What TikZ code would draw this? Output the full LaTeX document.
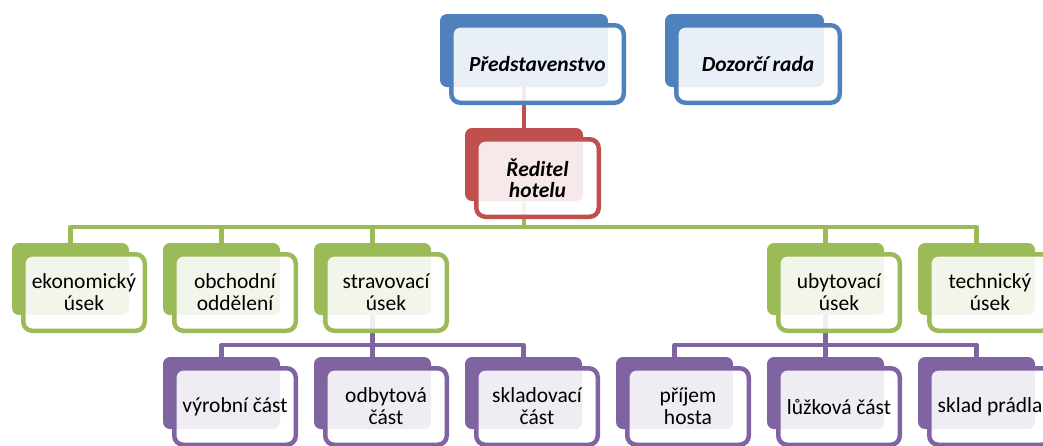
\documentclass[tikz,border=0pt]{standalone}
\usepackage{fontspec}
\setmainfont{Carlito}
\definecolor{cblue}{HTML}{4F81BD}
\definecolor{cred}{HTML}{C0504D}
\definecolor{cgreen}{HTML}{9BBB59}
\definecolor{cpurple}{HTML}{8064A2}
\pgfdeclarelayer{bg}
\pgfsetlayers{bg,main}
\tikzset{
  back/.style={rectangle, rounded corners=7pt, fill=#1, draw=none, minimum width=117pt, minimum height=72pt, inner sep=0pt, outer sep=0pt},
  front/.style={rectangle, rounded corners=9pt, draw=#1, line width=4.5pt, fill=white, fill opacity=0.88, text opacity=1, minimum width=121.5pt, minimum height=76.5pt, align=center, font=\fontsize{21.5}{22}\selectfont, inner sep=0pt},
  topfont/.style={font=\fontsize{21.5}{21}\selectfont\bfseries\itshape},
  conn/.style={line width=4.5pt, draw=#1, line join=round},
}
\begin{document}
\begin{tikzpicture}[x=1pt,y=-1pt]
\useasboundingbox (0,0) rectangle (1043,445);
\clip (0,0) rectangle (1043,445);
% top
\node[back=cblue, minimum width=168pt, minimum height=73pt] (presB) at (524,50.5) {};
\node[front=cblue, topfont, minimum width=172.5pt, minimum height=77.5pt] (pres) at (537.5,64) {Představenstvo};
\node[back=cblue, minimum width=159pt, minimum height=73pt] (dozB) at (744.5,50.5) {};
\node[front=cblue, topfont, minimum width=163.5pt, minimum height=77.5pt] (doz) at (758,64) {Dozorčí rada};
\node[back=cred, minimum width=118pt, minimum height=73pt] (dirB) at (524,164.5) {};
\node[front=cred, topfont, minimum width=122.5pt, minimum height=77.5pt] (dir) at (537.5,178) {Ředitel\\hotelu};
% green row
\node[back=cgreen] (ekB) at (70.5,279) {};
\node[front=cgreen] (ek) at (84,292.5) {ekonomický\\úsek};
\node[back=cgreen] (obB) at (221.5,279) {};
\node[front=cgreen] (ob) at (235,292.5) {obchodní\\oddělení};
\node[back=cgreen] (stB) at (372.5,279) {};
\node[front=cgreen] (st) at (386,292.5) {stravovací\\úsek};
\node[back=cgreen] (ubB) at (825.5,279) {};
\node[front=cgreen] (ub) at (839,292.5) {ubytovací\\úsek};
\node[back=cgreen] (teB) at (976.5,279) {};
\node[front=cgreen] (te) at (990,292.5) {technický\\úsek};
% purple row
\node[back=cpurple] (vyB) at (221.5,393) {};
\node[front=cpurple] (vy) at (235,406.5) {výrobní část};
\node[back=cpurple] (odB) at (372.5,393) {};
\node[front=cpurple] (od) at (386,406.5) {odbytová\\část};
\node[back=cpurple] (skB) at (523.5,393) {};
\node[front=cpurple] (sk) at (537,406.5) {skladovací\\část};
\node[back=cpurple] (prB) at (674.5,393) {};
\node[front=cpurple] (pr) at (688,406.5) {příjem\\hosta};
\node[back=cpurple] (luB) at (825.5,393) {};
\node[front=cpurple] (lu) at (839,406.5) {lůžková část};
\node[back=cpurple] (spB) at (976.5,393) {};
\node[front=cpurple] (sp) at (990,406.5) {sklad prádla};
\coordinate (gbus) at (0,227);
\coordinate (pbus) at (0,345);
\begin{pgfonlayer}{bg}
\draw[conn=cred] (presB.south) -- (dirB.north);
\draw[conn=cgreen] (ekB.north) -- (ekB.north |- gbus) -- (teB.north |- gbus) -- (teB.north);
\draw[conn=cgreen] (dirB.south) -- (dirB.south |- gbus);
\draw[conn=cgreen] (obB.north) -- (obB.north |- gbus);
\draw[conn=cgreen] (stB.north) -- (stB.north |- gbus);
\draw[conn=cgreen] (ubB.north) -- (ubB.north |- gbus);
\draw[conn=cpurple] (vyB.north) -- (vyB.north |- pbus) -- (skB.north |- pbus) -- (skB.north);
\draw[conn=cpurple] (stB.south) -- (stB.south |- pbus);
\draw[conn=cpurple] (odB.north) -- (odB.north |- pbus);
\draw[conn=cpurple] (prB.north) -- (prB.north |- pbus) -- (spB.north |- pbus) -- (spB.north);
\draw[conn=cpurple] (ubB.south) -- (ubB.south |- pbus);
\draw[conn=cpurple] (luB.north) -- (luB.north |- pbus);
\end{pgfonlayer}
\end{tikzpicture}
\end{document}
